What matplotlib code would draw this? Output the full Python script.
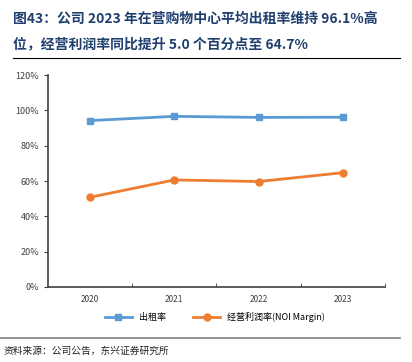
import matplotlib.pyplot as plt
from matplotlib.ticker import FuncFormatter, FixedLocator

plt.rcParams['font.family'] = ['Noto Sans CJK SC', 'DejaVu Sans']

years = ['2020', '2021', '2022', '2023']
occupancy = [94.2, 96.6, 96.0, 96.1]
noi_margin = [50.8, 60.6, 59.7, 64.7]

fig = plt.figure(figsize=(4.12, 3.62), dpi=100)
ax = fig.add_axes([48 / 412, 75 / 362, 337 / 412, 212 / 362])

x = range(len(years))
ax.plot(x, occupancy, color='#5B9BD5', lw=2, marker='s', ms=5, label='出租率')
ax.plot(x, noi_margin, color='#ED7D31', lw=2, marker='o', ms=5, label='经营利润率(NOI Margin)')

ax.set_xlim(-0.5, 3.5)
ax.set_ylim(0, 120)
ax.set_yticks(range(0, 121, 20))
ax.yaxis.set_major_formatter(FuncFormatter(lambda v, p: f'{v:.0f}%'))
ax.set_xticks(list(x))
ax.set_xticklabels(years)
ax.xaxis.set_minor_locator(FixedLocator([0.5, 1.5, 2.5, 3.5]))
ax.tick_params(axis='x', which='major', length=0, labelsize=6, pad=6, colors='#404040')
ax.tick_params(axis='x', which='minor', length=3, direction='in', color='#404040')
ax.tick_params(axis='y', length=3, direction='out', labelsize=6.5, colors='#404040')
for s in ['top', 'right']:
    ax.spines[s].set_visible(False)
for s in ['left', 'bottom']:
    ax.spines[s].set_color('#404040')
    ax.spines[s].set_linewidth(1.2)

fig.legend(loc='center', bbox_to_anchor=(215 / 412, 1 - 317 / 362), ncol=2,
           frameon=False, fontsize=6.5, handlelength=3, columnspacing=3)

fig.text(13 / 412, 1 - 19 / 362, '图43：公司 2023 年在营购物中心平均出租率维持 96.1%高',
         fontsize=10, fontweight='bold', color='#1F3F6E', va='center')
fig.text(13 / 412, 1 - 44 / 362, '位，经营利润率同比提升 5.0 个百分点至 64.7%',
         fontsize=10, fontweight='bold', color='#1F3F6E', va='center')
fig.add_artist(plt.Line2D([13 / 412, 400 / 412], [1 - 58 / 362] * 2, color='black', lw=0.8))
fig.add_artist(plt.Line2D([0, 400 / 412], [1 - 338 / 362] * 2, color='#808080', lw=1.2))
fig.text(4 / 412, 1 - 351 / 362, '资料来源：公司公告，东兴证券研究所', fontsize=7,
         style='italic', color='#222222', va='center')

fig.savefig('out.png', dpi=100)
